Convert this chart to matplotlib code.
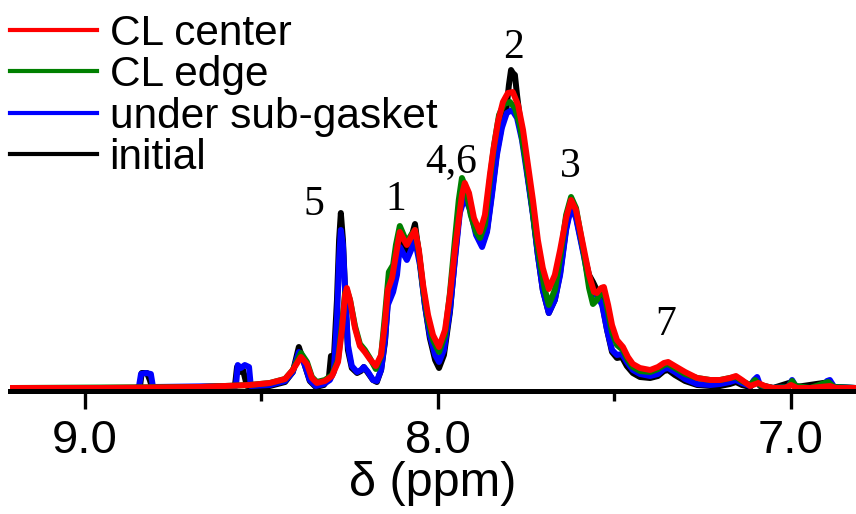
import matplotlib
matplotlib.use("Agg")
import matplotlib.pyplot as plt
from matplotlib.lines import Line2D
from matplotlib.ticker import FixedLocator

# ---------------- data (chemical shift in ppm, intensity in a.u.) ----------------
red_ppm = [9.212, 8.958, 8.674, 8.533, 8.476, 8.433, 8.411, 8.388, 8.371, 8.357, 8.343, 8.320, 8.300,
           8.283, 8.272, 8.263, 8.258, 8.249, 8.235, 8.221, 8.207, 8.193, 8.176, 8.161, 8.150, 8.142,
           8.130, 8.119, 8.108, 8.096, 8.088, 8.076, 8.065, 8.054, 8.042, 8.028, 8.014, 7.997, 7.980,
           7.966, 7.952, 7.943, 7.932, 7.924, 7.912, 7.898, 7.881, 7.867, 7.853, 7.844, 7.830, 7.816,
           7.802, 7.788, 7.773, 7.759, 7.745, 7.731, 7.717, 7.703, 7.686, 7.669, 7.654, 7.637, 7.623,
           7.609, 7.589, 7.572, 7.558, 7.550, 7.538, 7.530, 7.518, 7.507, 7.493, 7.476, 7.462, 7.448,
           7.428, 7.399, 7.377, 7.360, 7.348, 7.329, 7.300, 7.266, 7.229, 7.201, 7.173, 7.156, 7.139,
           7.116, 7.093, 7.074, 7.051, 7.017, 7.000, 6.983, 6.946, 6.890, 6.873, 6.816]
red_int = [0, 0, 1, 3, 5, 9, 18, 31, 24, 10, 5, 7, 12,
           26, 58, 93, 100, 88, 60, 42, 36, 29, 22, 33, 65, 98,
           110, 133, 156, 148, 143, 151, 158, 138, 103, 73, 53, 41, 58,
           93, 138, 163, 193, 205, 195, 170, 156, 173, 213, 236, 266, 286,
           295, 296, 283, 258, 223, 188, 148, 120, 99, 113, 138, 170, 188,
           178, 143, 113, 96, 95, 100, 101, 83, 63, 48, 41, 31, 24,
           20, 18, 21, 25, 26, 22, 16, 10, 8, 8, 10, 12, 8,
           2, 5, 2, 0, 0, 3, 0, 0, 2, 0, 0]

green_ppm = [9.212, 8.674, 8.533, 8.476, 8.433, 8.411, 8.388, 8.371, 8.357, 8.343, 8.320, 8.300, 8.283,
             8.272, 8.263, 8.258, 8.249, 8.235, 8.221, 8.207, 8.193, 8.176, 8.161, 8.150, 8.139, 8.127,
             8.119, 8.108, 8.096, 8.088, 8.076, 8.065, 8.054, 8.042, 8.028, 8.014, 7.997, 7.980, 7.966,
             7.952, 7.941, 7.932, 7.921, 7.907, 7.892, 7.881, 7.867, 7.853, 7.841, 7.827, 7.813, 7.796,
             7.782, 7.768, 7.754, 7.739, 7.725, 7.711, 7.697, 7.686, 7.669, 7.654, 7.637, 7.623, 7.609,
             7.589, 7.572, 7.561, 7.550, 7.538, 7.530, 7.518, 7.507, 7.493, 7.476, 7.462, 7.448, 7.428,
             7.399, 7.377, 7.360, 7.348, 7.329, 7.300, 7.266, 7.229, 7.201, 7.173, 7.156, 7.139, 7.116,
             7.102, 7.088, 7.051, 7.008, 6.997, 6.986, 6.946, 6.895, 6.878, 6.816]
green_int = [0, 1, 3, 5, 9, 18, 35, 26, 11, 6, 8, 13, 28,
             63, 95, 98, 88, 62, 44, 38, 30, 19, 32, 73, 116, 123,
             143, 162, 152, 146, 153, 158, 136, 100, 68, 48, 36, 53, 95,
             148, 188, 210, 200, 173, 156, 150, 163, 208, 243, 273, 284, 286,
             280, 263, 233, 198, 158, 126, 98, 83, 98, 130, 173, 191, 180,
             140, 100, 84, 88, 96, 96, 76, 56, 43, 38, 28, 21, 17,
             16, 19, 23, 24, 20, 14, 10, 8, 8, 10, 11, 7, 3,
             8, 3, 0, 1, 7, 2, 0, 6, 1, 0]

blue_ppm = [9.212, 8.858, 8.847, 8.841, 8.827, 8.813, 8.807, 8.589, 8.572, 8.567, 8.558, 8.547, 8.535,
            8.530, 8.476, 8.433, 8.411, 8.394, 8.380, 8.363, 8.346, 8.323, 8.306, 8.295, 8.286, 8.280,
            8.275, 8.269, 8.263, 8.255, 8.244, 8.229, 8.218, 8.210, 8.198, 8.184, 8.173, 8.161, 8.150,
            8.142, 8.127, 8.116, 8.108, 8.096, 8.088, 8.076, 8.065, 8.051, 8.037, 8.023, 8.008, 7.997,
            7.983, 7.966, 7.952, 7.938, 7.924, 7.909, 7.892, 7.875, 7.861, 7.847, 7.833, 7.819, 7.805,
            7.790, 7.776, 7.762, 7.745, 7.731, 7.717, 7.703, 7.686, 7.669, 7.654, 7.637, 7.623, 7.609,
            7.589, 7.572, 7.558, 7.547, 7.535, 7.521, 7.507, 7.493, 7.479, 7.465, 7.448, 7.428, 7.399,
            7.377, 7.360, 7.348, 7.329, 7.300, 7.266, 7.229, 7.201, 7.173, 7.156, 7.139, 7.116, 7.105,
            7.096, 7.088, 7.051, 7.008, 6.997, 6.989, 6.974, 6.912, 6.898, 6.890, 6.878, 6.816]
blue_int = [0, 0, 1, 14, 15, 14, 1, 2, 2, 23, 20, 23, 21,
            2, 3, 7, 16, 36, 26, 8, 2, 4, 8, 16, 68, 128,
            158, 143, 98, 43, 22, 16, 18, 21, 16, 8, 7, 18, 48,
            83, 96, 113, 141, 133, 128, 138, 148, 123, 83, 53, 33, 26,
            38, 78, 128, 175, 191, 178, 153, 141, 156, 193, 233, 260, 275,
            278, 270, 248, 208, 173, 133, 98, 75, 88, 113, 158, 181, 170,
            136, 106, 95, 91, 83, 58, 38, 33, 34, 26, 18, 14, 12,
            14, 19, 20, 16, 9, 4, 3, 4, 6, 8, 5, 2, 8,
            11, 3, 0, 1, 8, 3, 0, 0, 7, 8, 1, 0]

black_ppm = [9.212, 8.853, 8.844, 8.839, 8.824, 8.816, 8.810, 8.589, 8.575, 8.569, 8.561, 8.552, 8.541,
             8.476, 8.433, 8.411, 8.394, 8.380, 8.363, 8.346, 8.323, 8.309, 8.303, 8.295, 8.286, 8.280,
             8.275, 8.269, 8.263, 8.255, 8.244, 8.229, 8.218, 8.210, 8.198, 8.184, 8.173, 8.161, 8.150,
             8.142, 8.127, 8.116, 8.108, 8.096, 8.088, 8.076, 8.065, 8.051, 8.037, 8.023, 8.008, 7.997,
             7.983, 7.966, 7.952, 7.938, 7.924, 7.909, 7.892, 7.875, 7.861, 7.847, 7.833, 7.819, 7.807,
             7.799, 7.793, 7.788, 7.782, 7.776, 7.768, 7.756, 7.745, 7.731, 7.717, 7.703, 7.686, 7.669,
             7.654, 7.637, 7.623, 7.609, 7.589, 7.572, 7.561, 7.550, 7.535, 7.521, 7.507, 7.493, 7.479,
             7.465, 7.448, 7.428, 7.399, 7.377, 7.360, 7.348, 7.329, 7.300, 7.266, 7.229, 7.201, 7.173,
             7.156, 7.139, 7.116, 7.096, 7.088, 7.051, 6.997, 6.986, 6.890, 6.878, 6.816]
black_int = [0, 0, 1, 15, 15, 8, 1, 1, 2, 21, 16, 18, 2,
             2, 6, 16, 41, 26, 7, 1, 3, 10, 32, 28, 88, 148,
             175, 148, 98, 38, 20, 15, 17, 21, 15, 8, 6, 18, 46,
             88, 103, 123, 155, 140, 133, 150, 164, 126, 83, 50, 28, 20,
             33, 76, 130, 180, 196, 183, 156, 143, 158, 196, 236, 263, 276,
             303, 318, 315, 313, 293, 270, 243, 210, 175, 133, 98, 75, 88,
             115, 160, 183, 172, 138, 113, 106, 98, 85, 58, 36, 30, 31,
             22, 15, 11, 10, 12, 17, 18, 13, 7, 3, 2, 2, 4,
             6, 3, 1, 8, 2, 0, 6, 1, 6, 1, 0]

series_labels = ["CL center", "CL edge", "under sub-gasket", "initial"]
series_colors = ["#ff0000", "#008000", "#0000ff", "#000000"]

peak_labels = ["5", "1", "4,6", "2", "3", "7"]
peak_label_ppm = [8.352, 8.120, 7.962, 7.785, 7.626, 7.354]
peak_label_int = [183, 188, 226, 340, 221, 63]

major_ticks = [9.0, 8.0, 7.0]
minor_ticks = [8.5, 7.5]
tick_labels = ["9.0", "8.0", "7.0"]

# ---------------- figure ----------------
W, H = 856, 514
fig = plt.figure(figsize=(W / 100, H / 100), dpi=100)
ax = fig.add_axes([10 / W, (H - 391) / H, 1 - 10 / W, 391 / H])

lw = 4.3
ax.plot(black_ppm, black_int, color=series_colors[3], lw=lw, solid_joinstyle="round")
ax.plot(blue_ppm, blue_int, color=series_colors[2], lw=lw, solid_joinstyle="round")
ax.plot(green_ppm, green_int, color=series_colors[1], lw=lw, solid_joinstyle="round")
ax.plot(red_ppm, red_int, color=series_colors[0], lw=lw, solid_joinstyle="round")

ax.set_xlim(9.212, 6.816)
ax.set_ylim(-3, 388)

for s in ["left", "right", "top"]:
    ax.spines[s].set_visible(False)
ax.spines["bottom"].set_linewidth(3.6)
ax.set_yticks([])
ax.xaxis.set_major_locator(FixedLocator(major_ticks))
ax.xaxis.set_minor_locator(FixedLocator(minor_ticks))
ax.set_xticklabels(tick_labels, fontsize=34, family="Liberation Sans")
ax.tick_params(axis="x", which="major", direction="out", length=13, width=2.4, pad=7)
ax.tick_params(axis="x", which="minor", direction="out", length=7, width=2.4)
ax.set_xlabel("δ (ppm)", fontsize=35, family="Liberation Sans", labelpad=-1)

for lab, px, py in zip(peak_labels, peak_label_ppm, peak_label_int):
    ax.text(px, py, lab, fontsize=30, family="Liberation Serif", ha="center", va="center")

handles = [Line2D([], [], color=c, lw=3.0) for c in series_colors]
leg = fig.legend(handles, series_labels, loc="upper left", bbox_to_anchor=(10 / W, 1 - 14 / H),
                 frameon=False, prop={"family": "Liberation Sans", "size": 30.5},
                 handlelength=2.05, handletextpad=0.3, labelspacing=0.03, borderpad=0,
                 borderaxespad=0)

fig.savefig("out.png", dpi=100)
